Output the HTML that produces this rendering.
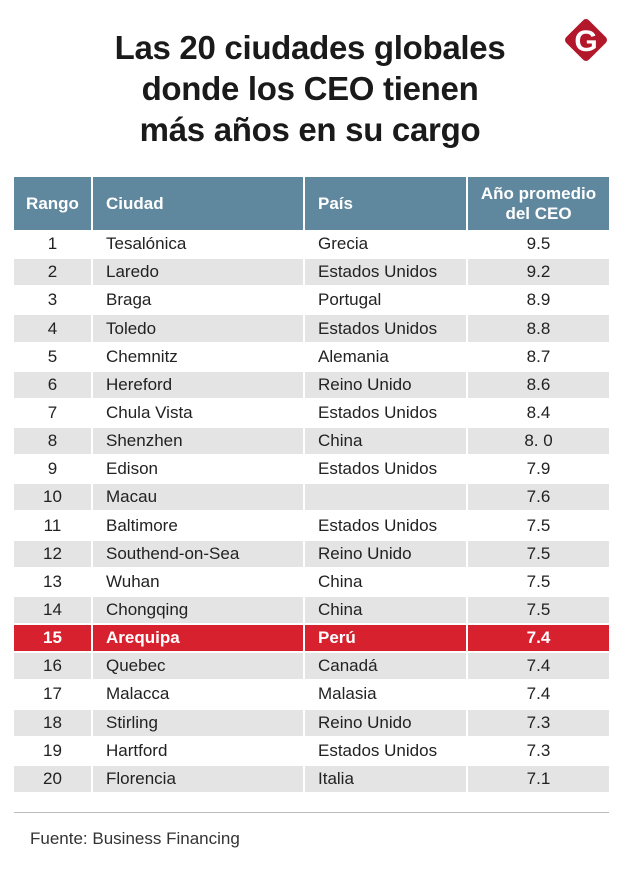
<!DOCTYPE html>
<html><head><meta charset="utf-8"><style>
body{margin:0;width:620px;height:880px;background:#fff;position:relative;overflow:hidden;font-family:"Liberation Sans",sans-serif}
.t{position:absolute;left:0;width:620px;text-align:center;font-weight:bold;font-size:33px;color:#1a1a1a;font-family:"Liberation Sans Narrow","Liberation Sans",sans-serif;letter-spacing:-0.3px}
.c{position:absolute;box-sizing:border-box;display:flex;align-items:center;font-size:17px;color:#222}
.h{background:#5f889e;color:#fff;font-weight:bold;font-family:"Liberation Sans Narrow","Liberation Sans",sans-serif;font-size:17px}
.ctr{justify-content:center;text-align:center}
</style></head><body>
<div class="t" style="top:29px">Las 20 ciudades globales</div>
<div class="t" style="top:70px">donde los CEO tienen</div>
<div class="t" style="top:111px">más años en su cargo</div>
<svg style="position:absolute;left:560px;top:14px" width="52" height="52" viewBox="0 0 52 52">
<rect x="10" y="10" width="32" height="32" rx="4" transform="rotate(45 26 26)" fill="#b3182a"/>
<text x="26" y="37" text-anchor="middle" font-family="Liberation Sans" font-weight="bold" font-size="30" fill="#fff">G</text></svg>
<div id="tbl"></div>
<div style="position:absolute;left:14px;top:812px;width:595px;height:1px;background:#bbb"></div>
<div style="position:absolute;left:30px;top:829px;font-size:17px;color:#333">Fuente: Business Financing</div>
<script>
const cities=["Tesalónica","Laredo","Braga","Toledo","Chemnitz","Hereford","Chula Vista","Shenzhen","Edison","Macau","Baltimore","Southend-on-Sea","Wuhan","Chongqing","Arequipa","Quebec","Malacca","Stirling","Hartford","Florencia"];
const countries=["Grecia","Estados Unidos","Portugal","Estados Unidos","Alemania","Reino Unido","Estados Unidos","China","Estados Unidos","","Estados Unidos","Reino Unido","China","China","Perú","Canadá","Malasia","Reino Unido","Estados Unidos","Italia"];
const values=["9.5","9.2","8.9","8.8","8.7","8.6","8.4","8. 0","7.9","7.6","7.5","7.5","7.5","7.5","7.4","7.4","7.4","7.3","7.3","7.1"];
const highlightIndex=14;
const cols=[[14,77],[93,210],[305,161],[468,141]];
const tbl=document.getElementById('tbl');
function cell(x,y,w,h,txt,cls,bg,pad,name){
  const d=document.createElement('div');
  d.className='c '+cls;
  d.style.cssText=`left:${x}px;top:${y}px;width:${w}px;height:${h}px;background:${bg};padding-left:${pad}px`;
  d.textContent=txt;
  
  
  tbl.appendChild(d);return d;
}
const hd=["Rango","Ciudad","País","Año promedio\ndel CEO"];
hd.forEach((t,i)=>{
  const d=cell(cols[i][0],177,cols[i][1],53,'','h'+(i==0||i==3?' ctr':''),'#5f889e',(i==1||i==2)?13:0,'header-cell');
  d.innerHTML=t.replace('\n','<br>');
});
const rh=28.15;
cities.forEach((c,i)=>{
  const y=231+i*rh;
  const hi=i===highlightIndex;
  const bg=hi?'#d8212f':(i%2?'#e4e4e4':'#fff');
  const txt=[String(i+1),c,countries[i],values[i]];
  txt.forEach((t,j)=>{
    const d=cell(cols[j][0],y,cols[j][1],rh-2,t,(j==0||j==3)?'ctr':'',bg,(j==1||j==2)?13:0,'row-cell');
    if(hi){d.style.color='#fff';d.style.fontWeight='bold';}
  });
});
</script>
</body></html>
